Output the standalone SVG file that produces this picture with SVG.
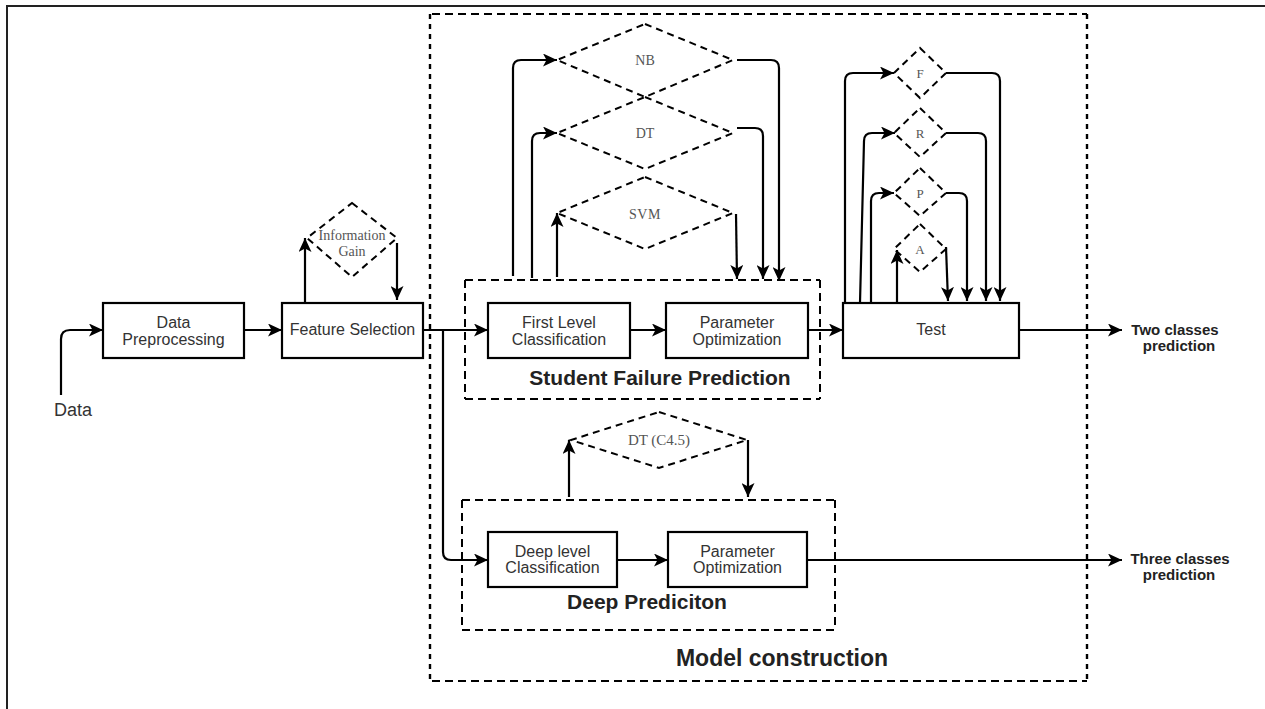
<svg xmlns="http://www.w3.org/2000/svg" width="1265" height="709" viewBox="0 0 1265 709">
<style>
.box{fill:#fff;stroke:#000;stroke-width:2.2}
.dia{fill:none;stroke:#000;stroke-width:2;stroke-dasharray:7 5}
.grp{fill:none;stroke:#000;stroke-width:2;stroke-dasharray:8 5}
.grpv{fill:none;stroke:#000;stroke-width:2.4;stroke-dasharray:5 5}
.c{fill:none;stroke:#000;stroke-width:2.2}
.t{font-family:"Liberation Sans",Arial,sans-serif;font-size:16px;fill:#333;text-anchor:middle}
.b{font-family:"Liberation Sans",Arial,sans-serif;font-weight:bold;fill:#222;text-anchor:middle}
.s{font-family:"Liberation Serif","Times New Roman",serif;fill:#555;text-anchor:middle}
</style>
<defs>
<marker id="ah" markerUnits="userSpaceOnUse" markerWidth="15" markerHeight="13" refX="14" refY="6.5" orient="auto">
<path d="M0,0 L14,6.5 L0,13 L3.5,6.5 Z" fill="#000"/>
</marker>
</defs>
<rect x="7" y="6" width="1275" height="720" fill="#fff" stroke="#222" stroke-width="2"/>

<g id="model-construction">
<path class="grp" d="M432,14 L1087,14 M432,681 L1087,681"/>
<path class="grpv" d="M430,14 L430,681 M1087,14 L1087,681"/>
<text class="b" x="782" y="666" font-size="23px">Model construction</text>
</g>

<g id="student-failure-group">
<path class="grp" d="M465,280 L820,280 M465,399 L820,399 M465,280 L465,399 M820,280 L820,399"/>
<text class="b" x="660" y="385" font-size="21px">Student Failure Prediction</text>
</g>

<g id="deep-prediction-group">
<path class="grp" d="M462,500 L835,500 M462,630 L835,630 M462,500 L462,630 M835,500 L835,630"/>
<text class="b" x="647" y="609" font-size="21px">Deep Prediciton</text>
</g>

<g id="connectors">
<path class="c" d="M61,395 L61,339 Q61,330 70,330 L103,330" marker-end="url(#ah)"/>
<path class="c" d="M244,330 L282,330" marker-end="url(#ah)"/>
<path class="c" d="M305,303 L305,238" marker-end="url(#ah)"/>
<path class="c" d="M397,243 L397,300" marker-end="url(#ah)"/>
<path class="c" d="M423,330 L488,330" marker-end="url(#ah)"/>
<path class="c" d="M443,330 L443,552 Q443,560 451,560 L488,560" marker-end="url(#ah)"/>
<path class="c" d="M630,330 L666,330" marker-end="url(#ah)"/>
<path class="c" d="M808,330 L843,330" marker-end="url(#ah)"/>
<path class="c" d="M1019,330 L1122,330" marker-end="url(#ah)"/>
<path class="c" d="M617,560 L668,560" marker-end="url(#ah)"/>
<path class="c" d="M807,560 L1122,560" marker-end="url(#ah)"/>
<path class="c" d="M513,276 L513,68 Q513,60 521,60 L557,60" marker-end="url(#ah)"/>
<path class="c" d="M532,278 L532,141 Q532,133 540,133 L557,133" marker-end="url(#ah)"/>
<path class="c" d="M557,277 L557,213" marker-end="url(#ah)"/>
<path class="c" d="M736,214 L737,279" marker-end="url(#ah)"/>
<path class="c" d="M737,128 L755,128 Q763,128 763,136 L763,279" marker-end="url(#ah)"/>
<path class="c" d="M737,60 L771,60 Q779,60 779,68 L779,281" marker-end="url(#ah)"/>
<path class="c" d="M845,303 L845,81 Q845,73 853,73 L894,73" marker-end="url(#ah)"/>
<path class="c" d="M860,303 L864,141 Q864,133 872,133 L895,133" marker-end="url(#ah)"/>
<path class="c" d="M871,303 L871,201 Q871,193 879,193 L894,193" marker-end="url(#ah)"/>
<path class="c" d="M897,303 L897,250" marker-end="url(#ah)"/>
<path class="c" d="M946,247 L948,301" marker-end="url(#ah)"/>
<path class="c" d="M946,193 L959,193 Q967,193 967,201 L967,301" marker-end="url(#ah)"/>
<path class="c" d="M946,133 L978,133 Q986,133 986,141 L986,301" marker-end="url(#ah)"/>
<path class="c" d="M946,73 L992,73 Q1000,73 1000,81 L1000,301" marker-end="url(#ah)"/>
<path class="c" d="M569,497 L569,440" marker-end="url(#ah)"/>
<path class="c" d="M748,440 L748,497" marker-end="url(#ah)"/>
</g>

<g id="data-label"><text class="t" x="73" y="416" style="font-size:18px">Data</text></g>

<g id="data-preprocessing">
<rect class="box" x="103" y="303" width="141" height="55"/>
<text class="t" x="173.5" y="328">Data</text>
<text class="t" x="173.5" y="345">Preprocessing</text>
</g>

<g id="feature-selection">
<rect class="box" x="282" y="303" width="141" height="55"/>
<text class="t" x="352.5" y="335">Feature Selection</text>
</g>

<g id="information-gain">
<polygon class="dia" points="352,203 397,238 352,277 307,238"/>
<text class="s" x="352" y="240" font-size="14px" fill="#333">Information</text>
<text class="s" x="352" y="256" font-size="14px" fill="#333">Gain</text>
</g>

<g id="first-level">
<rect class="box" x="488" y="303" width="142" height="55"/>
<text class="t" x="559" y="328">First Level</text>
<text class="t" x="559" y="345">Classification</text>
</g>

<g id="param-opt-1">
<rect class="box" x="666" y="303" width="142" height="55"/>
<text class="t" x="737" y="328">Parameter</text>
<text class="t" x="737" y="345">Optimization</text>
</g>

<g id="nb">
<polygon class="dia" points="645,24 733,60 645,97 557,60"/>
<text class="s" x="645" y="65" font-size="14px">NB</text>
</g>
<g id="dt">
<polygon class="dia" points="645,97 733,133 645,169 557,133"/>
<text class="s" x="645" y="138" font-size="14px">DT</text>
</g>
<g id="svm">
<polygon class="dia" points="645,177 733,213 645,249 557,213"/>
<text class="s" x="645" y="219" font-size="14px" letter-spacing="0.5">SVM</text>
</g>

<g id="test">
<rect class="box" x="843" y="303" width="176" height="55"/>
<text class="t" x="931" y="335">Test</text>
</g>

<g id="f"><polygon class="dia" points="920,48 946,73 920,98 894,73"/><text class="s" x="920" y="78" font-size="13px">F</text></g>
<g id="r"><polygon class="dia" points="920,108 946,133 920,157 894,133"/><text class="s" x="920" y="138" font-size="13px">R</text></g>
<g id="p"><polygon class="dia" points="920,168 946,193 920,216 894,193"/><text class="s" x="920" y="198" font-size="13px">P</text></g>
<g id="a"><polygon class="dia" points="920,224 946,249 920,272 894,249"/><text class="s" x="920" y="254" font-size="13px">A</text></g>

<g id="two-classes">
<text class="b" x="1175" y="335" font-size="15px">Two classes</text>
<text class="b" x="1179" y="351" font-size="15px">prediction</text>
</g>

<g id="dt-c45">
<polygon class="dia" points="659,412 747,440 659,468 571,440"/>
<text class="s" x="659" y="445" font-size="15px">DT (C4.5)</text>
</g>

<g id="deep-level">
<rect class="box" x="488" y="532" width="129" height="55"/>
<text class="t" x="552.5" y="557">Deep level</text>
<text class="t" x="552.5" y="573">Classification</text>
</g>

<g id="param-opt-2">
<rect class="box" x="668" y="532" width="139" height="55"/>
<text class="t" x="737.5" y="557">Parameter</text>
<text class="t" x="737.5" y="573">Optimization</text>
</g>

<g id="three-classes">
<text class="b" x="1180" y="564" font-size="15px">Three classes</text>
<text class="b" x="1179" y="580" font-size="15px">prediction</text>
</g>
</svg>
